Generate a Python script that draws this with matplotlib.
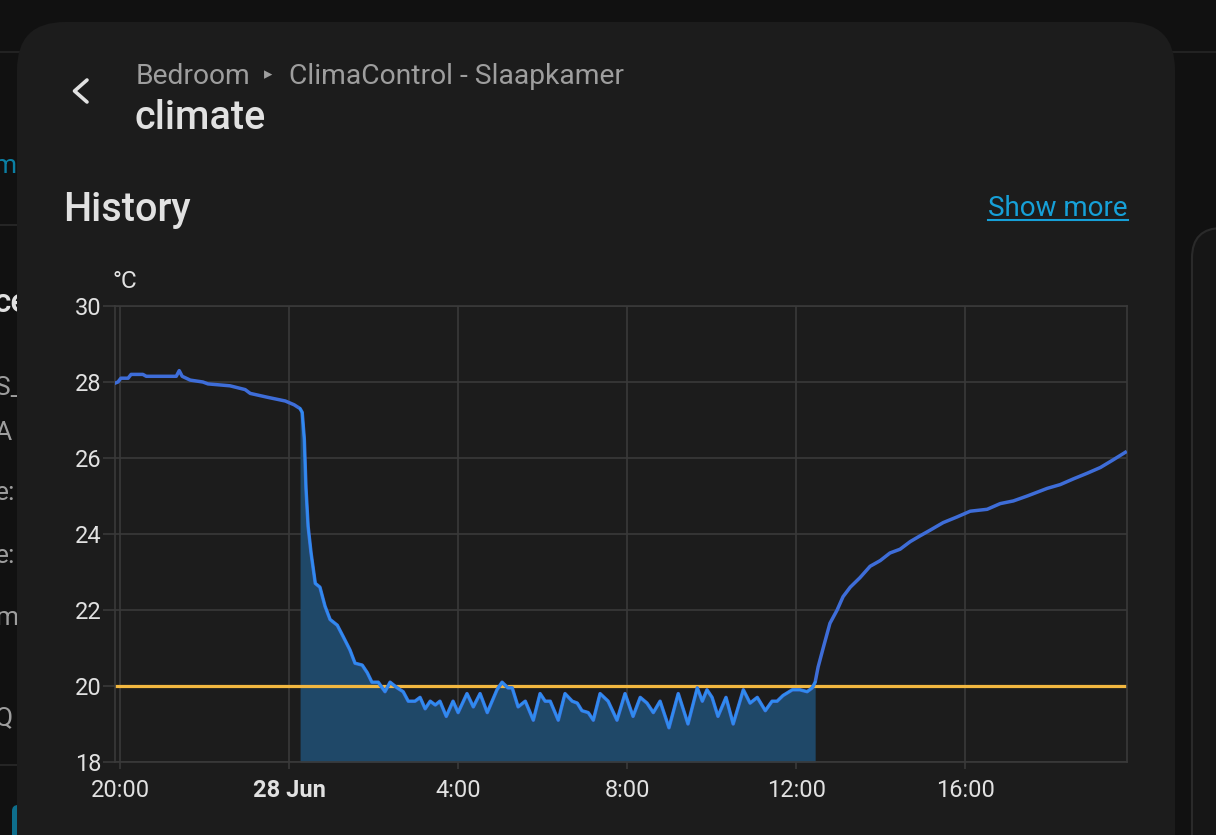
import matplotlib
matplotlib.use('Agg')
import matplotlib.pyplot as plt
from matplotlib.patches import FancyBboxPatch
from matplotlib.lines import Line2D
from matplotlib.transforms import IdentityTransform
import numpy as np

# === Data ==============================================================================
# hours after 27 Jun 20:00, current temperature in °C
time_h = [-0.12, -0.05, 0.02, 0.19, 0.26, 0.54, 0.62, 1.33, 1.40, 1.47, 1.66, 1.96, 2.08,
          2.60, 2.96, 3.08, 3.48, 3.91, 4.12, 4.26, 4.31, 4.36, 4.40, 4.45, 4.52, 4.62,
          4.73, 4.85, 4.97, 5.14, 5.28, 5.44, 5.56, 5.73, 5.85, 5.96, 6.11, 6.27, 6.39,
          6.56, 6.70, 6.82, 6.98, 7.10, 7.22, 7.34, 7.46, 7.57, 7.72, 7.88, 8.00, 8.21,
          8.36, 8.52, 8.69, 8.92, 9.04, 9.18, 9.28, 9.42, 9.59, 9.78, 9.94, 10.06, 10.18,
          10.37, 10.53, 10.70, 10.82, 10.93, 11.08, 11.20, 11.36, 11.55, 11.76, 11.95,
          12.14, 12.31, 12.47, 12.62, 12.78, 12.99, 13.21, 13.44, 13.66, 13.78, 13.89,
          14.01, 14.15, 14.34, 14.51, 14.75, 14.91, 15.08, 15.27, 15.43, 15.55, 15.69,
          15.91, 16.09, 16.26, 16.38, 16.45, 16.52, 16.64, 16.80, 16.97, 17.11, 17.28,
          17.51, 17.75, 17.99, 18.22, 18.46, 18.70, 18.93, 19.17, 19.48, 19.81, 20.12,
          20.52, 20.83, 21.14, 21.47, 21.94, 22.25, 22.56, 22.89, 23.20, 23.50, 23.79]
temp_c = [27.97, 28.0, 28.1, 28.1, 28.2, 28.2, 28.15, 28.15, 28.3, 28.15, 28.05, 28.0, 27.95,
          27.9, 27.8, 27.7, 27.6, 27.5, 27.4, 27.3, 27.2, 26.5, 25.2, 24.2, 23.5, 22.7,
          22.6, 22.1, 21.75, 21.6, 21.3, 20.95, 20.6, 20.55, 20.35, 20.1, 20.1, 19.85, 20.1,
          19.95, 19.85, 19.6, 19.6, 19.7, 19.4, 19.6, 19.5, 19.6, 19.2, 19.6, 19.3, 19.8,
          19.45, 19.8, 19.3, 19.9, 20.1, 19.95, 19.95, 19.45, 19.6, 19.1, 19.8, 19.6, 19.6,
          19.1, 19.8, 19.6, 19.55, 19.35, 19.3, 19.1, 19.8, 19.6, 19.1, 19.8,
          19.2, 19.7, 19.55, 19.3, 19.6, 18.9, 19.8, 19.0, 19.95, 19.6, 19.9,
          19.7, 19.2, 19.7, 19.0, 19.9, 19.55, 19.7, 19.35, 19.6, 19.6, 19.75,
          19.9, 19.9, 19.85, 19.95, 20.1, 20.5, 21.0, 21.65, 22.0, 22.35, 22.6,
          22.85, 23.15, 23.3, 23.5, 23.6, 23.8, 23.95, 24.1, 24.3, 24.45, 24.6,
          24.65, 24.8, 24.87, 25.0, 25.2, 25.3, 25.45, 25.6, 25.75, 25.95, 26.15]
target_h = [-0.12, 23.83]
target_c = [20.0, 20.0]
action_from = 4.26
action_to = 16.45

y_ticks = [18, 20, 22, 24, 26, 28, 30]
x_ticks = [0, 4, 8, 12, 16, 20]
x_labels = ['20:00', '28 Jun', '4:00', '8:00', '12:00', '16:00']

# === Figure ============================================================================
W, H = 1216, 835


def fx(x):
    return x / W


def fy(y):
    return 1 - y / H


plt.rcParams['font.family'] = ['Roboto', 'DejaVu Sans']

fig = plt.figure(figsize=(W / 100, H / 100), dpi=100, facecolor='#111111')

# page behind the dialog (only its right edge shows)
fig.add_artist(Line2D([0, 1], [fy(52), fy(52)], color='#262626', lw=1.2, zorder=-5))
for yy in (225, 765):
    fig.add_artist(Line2D([0, fx(20)], [fy(yy), fy(yy)], color='#2a2a2a', lw=1.2, zorder=-5))
fig.text(fx(16), fy(166), 'm', ha='right', va='center', color='#0b7fa3', fontsize=19, zorder=-4)
fig.text(fx(-6), fy(303), 'ce', ha='left', va='center', color='#e1e1e1', fontsize=24,
         fontweight='medium', zorder=-4)
for lab, yy in [('S_', 388), ('A', 433), ('e:', 493), ('e:', 556), ('m', 618), ('Q', 718)]:
    fig.text(fx(-5), fy(yy), lab, ha='left', va='center', color='#9e9e9e', fontsize=19, zorder=-4)
fig.add_artist(FancyBboxPatch((12, -20), 30, 50, boxstyle='round,pad=0,rounding_size=6',
                              transform=IdentityTransform(), facecolor='#0e6e8c', lw=0, zorder=-4))
fig.add_artist(FancyBboxPatch((1192, -100), 200, H - 228 + 100, boxstyle='round,pad=0,rounding_size=30',
                              transform=IdentityTransform(), facecolor='#161616', edgecolor='#2a2a2a',
                              lw=1.5, zorder=-4))

# dialog card
fig.add_artist(FancyBboxPatch((17, -100), 1158, H - 22 + 100, boxstyle='round,pad=0,rounding_size=48',
                              transform=IdentityTransform(), facecolor='#1c1c1c', lw=0, zorder=-2))

# header
fig.add_artist(Line2D([fx(87), fx(74.5), fx(87)], [fy(80), fy(91), fy(102)], color='#e1e1e1',
                      lw=2.6, solid_capstyle='round', solid_joinstyle='round'))
fig.text(fx(136), fy(76), 'Bedroom', ha='left', va='center', color='#9e9e9e', fontsize=20.3)
fig.text(fx(268), fy(75), '▸', ha='center', va='center', color='#9e9e9e', fontsize=12)
fig.text(fx(289), fy(76), 'ClimaControl - Slaapkamer', ha='left', va='center', color='#9e9e9e',
         fontsize=20.3)
fig.text(fx(135), fy(118), 'climate', ha='left', va='center', color='#e1e1e1', fontsize=28.5,
         fontweight='medium')
fig.text(fx(63), fy(210), 'History', ha='left', va='center', color='#e1e1e1', fontsize=28.5,
         fontweight='medium')
fig.text(fx(1128), fy(209), 'Show more', ha='right', va='center', color='#16a0d8', fontsize=20)
fig.add_artist(Line2D([fx(988), fx(1128)], [fy(220), fy(220)], color='#16a0d8', lw=1.5))
fig.text(fx(113), fy(281), '°C', ha='left', va='center', color='#e1e1e1', fontsize=17.5)

# === Chart =============================================================================
ax = fig.add_axes([fx(115), fy(762), fx(1127) - fx(115), (762 - 306) / H])
ax.set_facecolor('none')

t = np.array(time_h)
v = np.array(temp_c)
on = (t >= action_from) & (t <= action_to)

ax.fill_between(t, v, 18, where=on, color='#1f4868', lw=0, zorder=1)
ax.plot(target_h, target_c, color='#f2b740', lw=2.3, zorder=2)
ax.plot(t, v, color='#3e6dd8', lw=2.5, zorder=3, solid_joinstyle='round')
ax.plot(t[on], v[on], color='#2f8cf0', lw=1.7, zorder=4, solid_joinstyle='round')

ax.set_xlim(-0.12, 23.83)
ax.set_ylim(18, 30)
ax.set_xticks(x_ticks, x_labels)
ax.set_yticks(y_ticks)
ax.grid(True, color='#3a3a3a', lw=1.2, zorder=0)
ax.set_axisbelow(True)
for s in ax.spines.values():
    s.set_color('#3a3a3a')
    s.set_linewidth(1.2)
ax.tick_params(colors='#3a3a3a', labelcolor='#e1e1e1', labelsize=17, width=1.2)
ax.tick_params(axis='y', length=8.5, pad=1)
ax.tick_params(axis='x', length=5, pad=7)
ax.get_xticklabels()[1].set_fontweight('bold')

fig.savefig('out.png', dpi=100, facecolor=fig.get_facecolor())
